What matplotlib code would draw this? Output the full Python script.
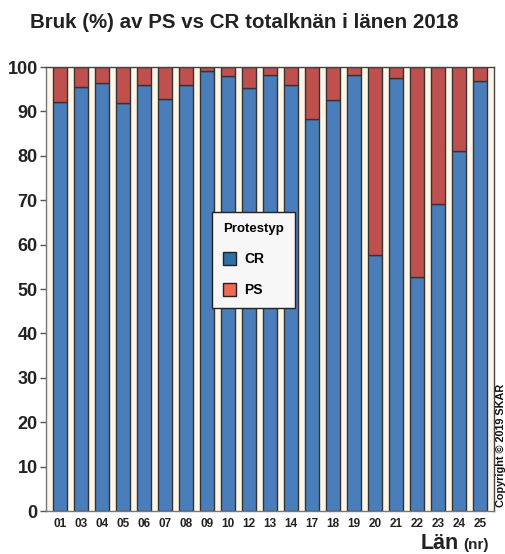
import matplotlib
matplotlib.use("Agg")
import matplotlib.pyplot as plt
from matplotlib.patches import Patch
import numpy as np

lan = ["01", "03", "04", "05", "06", "07", "08", "09", "10", "12", "13",
       "14", "17", "18", "19", "20", "21", "22", "23", "24", "25"]
cr = [92.1, 95.4, 96.5, 92.0, 95.9, 92.9, 95.9, 99.0, 98.0, 95.3, 98.3,
      95.9, 88.3, 92.5, 98.3, 57.6, 97.6, 52.6, 69.1, 81.0, 96.8]
ps = [100 - v for v in cr]

plt.rcParams['font.family'] = ['Liberation Sans', 'DejaVu Sans']

fig = plt.figure(figsize=(5.05, 5.54), dpi=100)
ax = fig.add_axes([46/505, 1 - 511/554, 448/505, 444/554])
ax.set_facecolor("#FCF6E9")

x = np.arange(len(lan))
blue = "#4A7EBB"
red = "#C0504D"
ax.bar(x, cr, width=0.67, color=blue, edgecolor="#333333", linewidth=1.0)
ax.bar(x, ps, bottom=cr, width=0.67, color=red, edgecolor="#333333", linewidth=1.0)

ax.set_xlim(-0.67, len(lan) - 1 + 0.67)
ax.set_ylim(0, 100)
ax.set_yticks(range(0, 101, 10))
ax.set_yticklabels([str(v) for v in range(0, 101, 10)], fontsize=13, fontweight="bold", color="#222222")
ax.set_xticks(x)
ax.set_xticklabels(lan, fontsize=8.5, fontweight="bold", color="#222222")
ax.tick_params(axis="x", length=0, pad=5)
ax.tick_params(axis="y", length=4, width=1, color="#555555", pad=2)
for s in ax.spines.values():
    s.set_color("#444444")
    s.set_linewidth(1.0)
ax.spines["left"].set_color("#777777")
ax.spines["bottom"].set_color("#777777")

fig.text(244/505, 1 - 23/554, "Bruk (%) av PS vs CR totalknän i länen 2018",
         ha="center", va="center", fontsize=14.8, fontweight="bold", color="#222222")

fig.text(459/505, 1 - 549/554, "Län", ha="right", va="baseline",
         fontsize=15.5, fontweight="bold", color="#222222")
fig.text(463/505, 1 - 549/554, "(nr)", ha="left", va="baseline",
         fontsize=11, fontweight="bold", color="#222222")

fig.text(501/505, 1 - 445/554, "Copyright © 2019 SKAR", rotation=90,
         ha="center", va="center", fontsize=7.8, fontweight="bold", color="#111111")

handles = [Patch(facecolor="#2F6FA8", edgecolor="#222222", label="CR"),
           Patch(facecolor="#EF6B52", edgecolor="#222222", label="PS")]
leg = ax.legend(handles=handles, title="Protestyp", loc="upper left",
                bbox_to_anchor=((212-46)/448, (511-212)/444),
                frameon=True, fancybox=False, edgecolor="#222222",
                facecolor="#F7F7F7", framealpha=1,
                prop={"weight": "bold", "size": 10},
                handlelength=0.9, handleheight=1.1, labelspacing=1.2,
                borderpad=0.8, handletextpad=0.6, borderaxespad=0)
leg.get_title().set_fontweight("bold")
leg.get_title().set_fontsize(9.5)
leg._legend_box.align = "left"
leg._legend_box.sep = 12
leg.get_frame().set_linewidth(1.0)

fig.savefig("out.png", dpi=100)
